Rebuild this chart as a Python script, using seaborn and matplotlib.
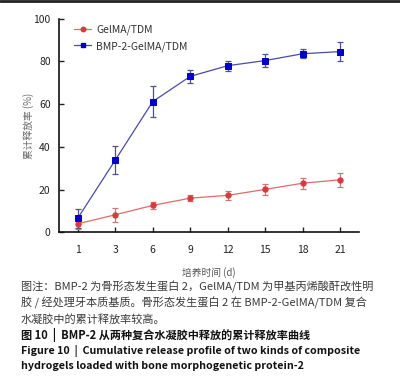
import numpy as np
import pandas as pd
import matplotlib
matplotlib.use("Agg")
import matplotlib.pyplot as plt
from matplotlib.lines import Line2D
import seaborn as sns

days = ["1", "3", "6", "9", "12", "15", "18", "21"]
gelma = [4.0, 8.2, 12.6, 16.0, 17.3, 20.1, 23.0, 24.6]
gelma_err = [2.6, 3.3, 1.5, 1.5, 2.0, 2.5, 2.5, 3.2]
bmp = [6.6, 33.8, 61.2, 73.0, 78.0, 80.4, 83.6, 84.6]
bmp_err = [4.4, 6.5, 7.2, 3.0, 2.4, 3.0, 2.0, 4.4]
series_names = ["GelMA/TDM", "BMP-2-GelMA/TDM"]

sns.set_theme(style="ticks")
plt.rcParams['font.family'] = ['Noto Sans CJK SC', 'DejaVu Sans']

fig = plt.figure(figsize=(4.0, 3.79), dpi=100)
ax = fig.add_axes([0.1475, 0.387, 0.75, 0.5637])

pos = np.arange(len(days))
df = pd.DataFrame({
    "pos": np.concatenate([pos, pos]),
    "val": gelma + bmp,
    "group": [series_names[0]] * len(days) + [series_names[1]] * len(days),
})

red_line = "#e06a6a"
red_mk = "#d83a3a"
blue_line = "#4a4aa8"
blue_mk = "#0000c8"

ax.errorbar(pos, gelma, yerr=gelma_err, fmt="none", ecolor="#c47a7a",
            elinewidth=0.9, capsize=2, capthick=0.9, zorder=2)
ax.errorbar(pos, bmp, yerr=bmp_err, fmt="none", ecolor="#505090",
            elinewidth=0.9, capsize=2, capthick=0.9, zorder=2)

sns.lineplot(data=df, x="pos", y="val", hue="group", style="group",
             palette={series_names[0]: red_line, series_names[1]: blue_line},
             markers={series_names[0]: "o", series_names[1]: "s"},
             dashes=False, linewidth=0.9, markersize=3.8, ax=ax, zorder=3,
             legend=False)
for line, mc in zip(ax.lines[-2:], [red_mk, blue_mk]):
    line.set_markerfacecolor(mc)
    line.set_markeredgecolor(mc)

handles = [Line2D([], [], color=red_line, marker="o", markersize=3.2, lw=0.9,
                  markerfacecolor=red_mk, markeredgecolor=red_mk),
           Line2D([], [], color=blue_line, marker="s", markersize=3.5, lw=0.9,
                  markerfacecolor=blue_mk, markeredgecolor=blue_mk)]
leg = ax.legend(handles, series_names, loc="upper left", frameon=False,
                fontsize=7.5, handlelength=1.6, handletextpad=0.5,
                labelspacing=0.55, bbox_to_anchor=(0.02, 1.015))
for t in leg.get_texts():
    t.set_color("#333333")

ax.set_xlim(-0.5, 7.5)
ax.set_ylim(0, 100)
ax.set_xticks(pos)
ax.set_xticklabels(days)
ax.set_yticks([0, 20, 40, 60, 80, 100])
ax.tick_params(direction="in", length=3.5, width=1.0, labelsize=7.5,
               colors="#222222", pad=6)
ax.tick_params(axis="x", pad=9)
for s in ["top", "right"]:
    ax.spines[s].set_visible(False)
for s in ["left", "bottom"]:
    ax.spines[s].set_linewidth(1.2)
    ax.spines[s].set_color("#111111")

ax.set_xlabel("培养时间 (d)", fontsize=7, color="#555555", labelpad=9)
ax.set_ylabel("累计释放率 (%)", fontsize=7, color="#666666")
ax.yaxis.set_label_coords(-0.085, 0.5)

fig.add_artist(plt.Line2D([0, 1], [0.997, 0.997], color="#222222", lw=2,
                          transform=fig.transFigure))

cap_color = "#3a3a3a"
fs = 8.0
x0 = 0.052
fig.text(x0, 0.243, "图注：BMP-2 为骨形态发生蛋白 2，GelMA/TDM 为甲基丙烯酸酐改性明",
         fontsize=fs, color=cap_color, va="center")
fig.text(x0, 0.2005, "胶 / 经处理牙本质基质。骨形态发生蛋白 2 在 BMP-2-GelMA/TDM 复合",
         fontsize=fs, color=cap_color, va="center")
fig.text(x0, 0.158, "水凝胶中的累计释放率较高。",
         fontsize=fs, color=cap_color, va="center")
fig.text(x0, 0.116, "图 10  |  BMP-2 从两种复合水凝胶中释放的累计释放率曲线",
         fontsize=fs, color="#111111", va="center", fontweight="bold")
fig.text(x0, 0.074, "Figure 10  |  Cumulative release profile of two kinds of composite",
         fontsize=7.7, color="#111111", va="center", fontweight="bold")
fig.text(x0, 0.034, "hydrogels loaded with bone morphogenetic protein-2",
         fontsize=7.7, color="#111111", va="center", fontweight="bold")

fig.savefig("out.png", dpi=100)
